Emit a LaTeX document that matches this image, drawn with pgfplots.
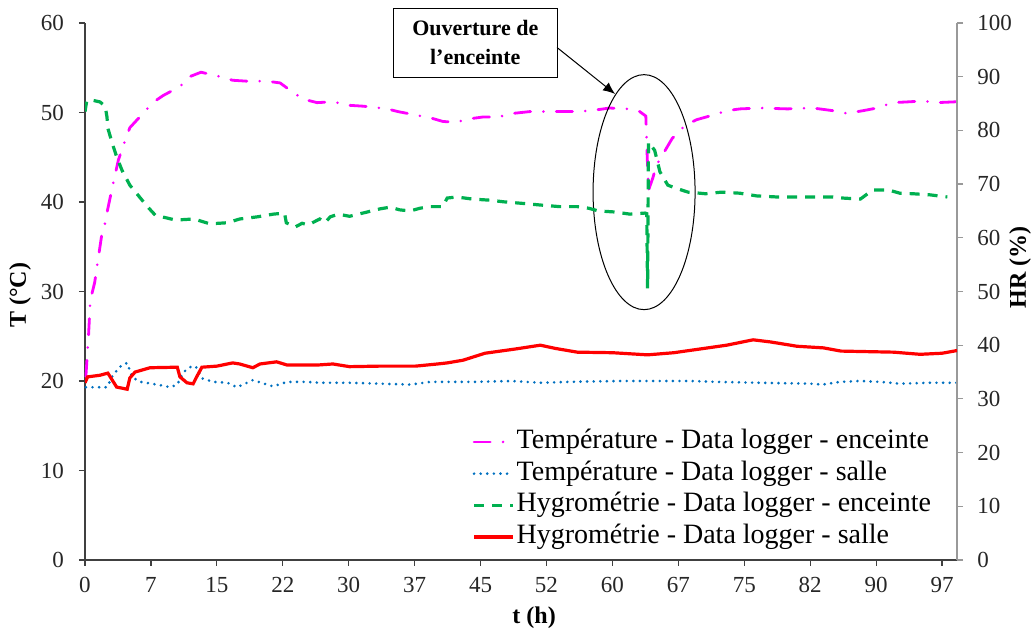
\documentclass[border=0pt]{standalone}
\usepackage{fontspec}
\setmainfont{Liberation Serif}
\usepackage{pgfplots}
\pgfplotsset{compat=1.18}
\usetikzlibrary{calc,arrows.meta}

\definecolor{cmag}{RGB}{255,0,255}
\definecolor{cblue}{RGB}{0,112,192}
\definecolor{cgreen}{RGB}{0,176,80}
\definecolor{cred}{RGB}{255,0,0}

\tikzset{
  tenc/.style={cmag, line width=1.4pt, line cap=round, dash pattern=on 8.1pt off 6.4pt on 0pt off 6.4pt},
  tsal/.style={cblue, line width=1.45pt, line cap=round, dash pattern=on 0pt off 3.3pt},
  henc/.style={cgreen, line width=1.6pt, dash pattern=on 5pt off 4pt},
  hsal/.style={cred, line width=1.6pt},
}

\begin{document}
\begin{tikzpicture}
\begin{axis}[
  name=ax,
  scale only axis, width=436pt, height=268.5pt,
  xmin=0, xmax=99.2, ymin=0, ymax=60,
  axis x line=bottom, axis y line=left,
  axis line style={-, black!75, line width=0.6pt},
  tick align=outside, major tick length=3pt,
  tick style={black!75, line width=0.6pt},
  xtick={0,7.5,...,97.5},
  xticklabels={0,7,15,22,30,37,45,52,60,67,75,82,90,97},
  ytick={0,10,...,60},
  /pgf/number format/assume math mode=true,
  tick label style={font=\fontsize{11.5}{13}\selectfont, text=black!85},
  xticklabel style={yshift=-2pt},
  yticklabel style={xshift=-4pt},
  xlabel={\textbf{t (h)}}, ylabel={\textbf{T (°C)}},
  label style={font=\fontsize{12}{14}\selectfont},
  xlabel style={at={(axis description cs:0.515,-0.108)}, anchor=center},
  ylabel style={at={(axis description cs:-0.0745,0.493)}, anchor=center},
  clip=false,
]
% Temperature - enceinte
\addplot[tenc] coordinates {
(0.1,20.5) (0.4,25) (0.6,29) (1.1,31.0) (1.9,36.3) (2.3,37.7) (2.5,38.8) (3.1,41.6)
(3.8,44.7) (4.5,46.7) (5.1,48.3) (6.6,49.9) (7.7,51.1) (8.9,51.9) (10.8,52.9)
(11.9,54.0) (13.2,54.5) (15.4,54.0) (16.8,53.6) (18.4,53.5) (20.7,53.5) (22.2,53.3)
(23.3,52.5) (24.8,51.5) (26.4,51.1) (28.2,51.2) (30.1,50.8) (31.7,50.7) (34.4,50.4)
(35.6,50.1) (37.2,49.8) (39.3,49.4) (40.7,49.0) (42.1,48.9) (43.8,49.3) (45.3,49.5)
(47.0,49.5) (48.7,49.9) (50.6,50.1) (52.6,50.1) (55.2,50.1) (57.5,50.2) (59.7,50.5)
(61.7,50.4) (63.1,50.1) (63.8,49.6) (63.9,46.6) (64.1,41.3) (64.6,42.7) (65.0,44.1)
(66.2,46.1) (66.8,47.1) (68.3,48.6) (69.6,49.2) (71.4,49.7) (73.0,50.2) (74.5,50.4)
(76.8,50.5) (79.9,50.4) (82.8,50.5) (85.1,50.2) (86.7,49.9) (88.5,50.2) (90.1,50.5)
(91.9,51.1) (93.9,51.2) (95.3,51.3) (96.9,51.1) (99.2,51.2)
};
% Temperature - salle
\addplot[tsal] coordinates {
(0.1,19.3) (2.5,19.3) (3.2,20.7) (4.2,21.8) (4.8,22.0) (5.4,20.4) (6.3,19.9)
(8.2,19.6) (9.7,19.3) (10.5,19.6) (11.2,21.0) (12.2,21.7) (12.7,21.5) (13.3,20.3)
(14.6,19.9) (16.2,19.8) (17.3,19.3) (19.1,20.1) (20.7,19.6) (21.4,19.4) (23.0,19.9)
(25.3,19.9) (26.7,19.8) (30.1,19.8) (37.0,19.6) (39.3,19.9) (44.0,19.9) (48.5,20.0)
(51.9,19.8) (55.0,19.9) (60.9,20.0) (64.0,20.0) (68.9,20.0) (72.0,19.9) (76.8,19.8)
(82.5,19.7) (83.9,19.6) (85.9,19.9) (88.2,20.0) (90.5,19.9) (92.7,19.7) (96.1,19.8)
(99.2,19.8)
};
% annotation
\node[draw=black, line width=0.6pt, fill=white, minimum width=82pt, minimum height=34.5pt,
  align=center, font=\bfseries\fontsize{11}{14.5}\selectfont]
  at (axis cs:44.4,57.8) {Ouverture de\\l'enceinte};
\draw[line width=0.5pt, -{Latex[length=6pt,width=5pt]}] (axis cs:53.7,57.26) -- (axis cs:60.3,52.07);
\draw[line width=0.5pt] (axis cs:63.6,41.1) ellipse [x radius=25.5pt, y radius=58.75pt];
\end{axis}

\begin{axis}[
  scale only axis, width=436pt, height=268.5pt,
  xmin=0, xmax=99.2, ymin=0, ymax=100,
  axis x line=none, axis y line=right,
  axis line style={-, black!40, line width=0.6pt},
  tick align=outside, major tick length=3pt,
  tick style={black!40, line width=0.6pt},
  ytick={0,10,...,100},
  /pgf/number format/assume math mode=true,
  tick label style={font=\fontsize{11.5}{13}\selectfont, text=black!85},
  yticklabel style={xshift=3.7pt},
  ylabel={\textbf{HR (\%)}},
  label style={font=\fontsize{12}{14}\selectfont},
  ylabel style={at={(axis description cs:1.0722,0.545)}, anchor=center},
  legend style={at={(axis description cs:0.437,0.255)}, anchor=north west,
    draw=none, fill=none, font=\fontsize{14}{16}\selectfont,
    row sep=1.35pt, nodes={inner sep=1pt, text height=9.5pt, text depth=3pt}},
  legend cell align=left,
  legend image code/.code={\draw[#1] (0pt,0pt) -- (19.5pt,0pt);},
]
\addlegendimage{tenc}
\addlegendentry{Température - Data logger - enceinte}
\addlegendimage{tsal}
\addlegendentry{Température - Data logger - salle}
% Hygrometrie - enceinte
\addplot[henc] coordinates {
(0.0,83.5) (0.2,85.5) (0.6,85.7) (1.7,85.3) (2.3,84.5) (2.5,82.5) (2.6,80.4) (3.1,77.6)
(3.6,75.1) (4.2,72.6) (5.1,69.8) (6.3,67.4) (7.1,65.8) (8.0,64.2) (10.3,63.3)
(12.4,63.5) (14.2,62.6) (16.2,62.8) (17.6,63.5) (19.6,63.9) (21.4,64.4) (22.7,64.6)
(22.9,62.8) (23.9,62.0) (24.7,62.7) (25.4,62.4) (26.7,63.5) (27.3,62.8) (27.9,63.9)
(28.8,64.4) (30.1,64.0) (31.6,64.6) (33.6,65.4) (34.7,65.7) (35.8,65.2) (37.0,65.0)
(38.1,65.5) (39.2,65.8) (40.7,65.8) (41.2,67.4) (42.3,67.6) (44.1,67.2) (46.1,67.0)
(47.6,66.7) (49.8,66.4) (51.8,66.1) (54.0,65.8) (56.0,65.8) (57.3,65.5) (58.4,65.0)
(60.3,64.8) (62.0,64.4) (63.7,64.6) (63.9,64.5) (64.0,50.6) (64.1,77.8) (64.8,76.3)
(65.4,72.3) (66.3,69.8) (67.1,69.3) (68.6,68.5) (70.6,68.2) (72.4,68.5) (74.5,68.3)
(76.4,67.8) (78.7,67.6) (81.0,67.6) (82.8,67.6) (85.1,67.6) (86.2,67.4) (88.2,67.2)
(89.6,68.9) (91.4,68.9) (92.7,68.3) (94.2,68.2) (96.1,68.0) (98.1,67.6)
};
\addlegendentry{Hygrométrie - Data logger - enceinte}
% Hygrometrie - salle
\addplot[hsal] coordinates {
(0.0,33.0) (0.3,34.1) (1.7,34.4) (2.6,34.8) (3.1,33.5) (3.6,32.2) (4.8,31.8) (5.1,33.9)
(5.7,35.0) (7.4,35.8) (10.5,35.9) (10.8,34.1) (11.6,33.0) (12.3,32.8) (12.7,34.1)
(13.3,35.9) (15.0,36.1) (16.8,36.7) (17.6,36.5) (19.1,35.8) (19.9,36.5) (21.8,36.9)
(23.0,36.3) (26.4,36.3) (28.2,36.5) (30.1,36.0) (33.5,36.1) (37.6,36.1) (40.1,36.5)
(41.2,36.7) (43.0,37.2) (45.5,38.5) (49.0,39.3) (51.8,40.0) (53.5,39.4) (56.0,38.7)
(60.0,38.6) (64.0,38.2) (67.0,38.6) (70.0,39.3) (73.0,40.0) (76.0,41.0) (78.0,40.6)
(81.0,39.8) (84.0,39.5) (86.0,38.9) (89.0,38.8) (92.0,38.7) (95.0,38.3) (97.5,38.5)
(99.2,39.0)
};
\addlegendentry{Hygrométrie - Data logger - salle}
\end{axis}
\pgfresetboundingbox
\path[use as bounding box] ($(ax.south west)+(-42.5pt,-36.5pt)$) rectangle ($(ax.north east)+(39pt,11.5pt)$);
\end{tikzpicture}
\end{document}
